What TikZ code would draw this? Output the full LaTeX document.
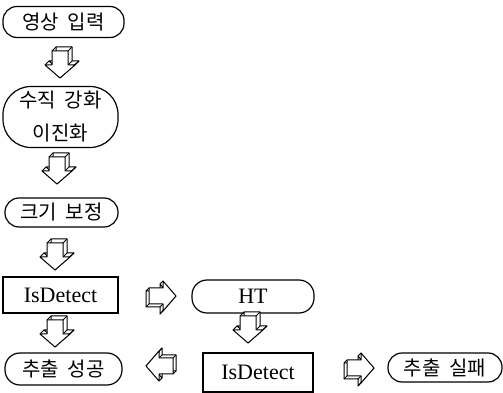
\documentclass[tikz,border=0pt]{standalone}
\usepackage{fontspec}
\setmainfont{Liberation Serif}
\newfontfamily\kr{Noto Sans CJK KR}
\usetikzlibrary{calc}
\tikzset{
  base/.style={draw, line width=1.2pt, inner sep=0pt, align=center},
  pill/.style={base, rounded corners=#1},
  pill/.default=14pt,
  krtext/.style={font=\kr\fontsize{20}{33}\selectfont},
  entext/.style={font=\fontsize{22}{26}\selectfont},
  boxnode/.style={base, rectangle},
  arrowline/.style={line width=1pt, line join=round},
}
% block arrow: #1 centre, #2 angle, #3 dx, #4 dy (depth offset)
\newcommand{\blkarrow}[4]{%
  \begin{scope}[shift={(#1)}]
    \begin{scope}[shift={(#3,#4)},rotate=#2]
      \filldraw[arrowline,fill=white] (-8,11) -- (-8,-3) -- (-15,-3) -- (0,-16) -- (15,-3) -- (8,-3) -- (8,11) -- cycle;
    \end{scope}
    \foreach \px/\py in {-8/11,-8/-3,-15/-3,0/-16,15/-3,8/-3,8/11}{
      \path[rotate=#2] (\px,\py) coordinate (tmpv);
      \draw[arrowline] (tmpv) -- ++(#3,#4);
    }
    \begin{scope}[rotate=#2]
      \filldraw[arrowline,fill=white] (-8,11) -- (-8,-3) -- (-15,-3) -- (0,-16) -- (15,-3) -- (8,-3) -- (8,11) -- cycle;
    \end{scope}
  \end{scope}}
\begin{document}
\begin{tikzpicture}[x=1pt,y=1pt]
\useasboundingbox (0,0) rectangle (503,393);
% nodes
\node[pill, krtext, minimum width=121pt, minimum height=31pt] (n1) at (63.5,371) {영상\hspace{0.45em}입력};
\node[pill=28pt, krtext, minimum width=115pt, minimum height=61pt] (n2) at (60.5,276) {수직\hspace{0.45em}강화\\이진화};
\node[pill, krtext, minimum width=113pt, minimum height=29pt] (n3) at (61.5,180.5) {크기\hspace{0.45em}보정};
\node[boxnode, entext, minimum width=115pt, minimum height=36pt] (n4) at (60.5,98) {IsDetect};
\node[pill=15pt, entext, minimum width=122pt, minimum height=33pt] (n5) at (253,96.5) {HT};
\node[pill=15pt, krtext, minimum width=117pt, minimum height=32pt] (n6) at (63.5,24) {추출\hspace{0.45em}성공};
\node[boxnode, entext, minimum width=110pt, minimum height=39pt] (n7) at (258,20.5) {IsDetect};
\node[pill, krtext, minimum width=114pt, minimum height=29pt] (n8) at (445,25.5) {추출\hspace{0.45em}실패};
% block arrows
\coordinate (a1) at (60,331);
\coordinate (a2) at (57,225);
\coordinate (a3) at (55,139);
\coordinate (a4) at (160,97);
\coordinate (a5) at (248,66);
\coordinate (a6) at (55,62);
\coordinate (a7) at (162,27);
\coordinate (a8) at (358,25);
\blkarrow{a1}{0}{4}{4}
\blkarrow{a2}{0}{4}{4}
\blkarrow{a3}{0}{4}{4}
\blkarrow{a4}{90}{-3}{-3}
\blkarrow{a5}{0}{4}{4}
\blkarrow{a6}{0}{4}{4}
\blkarrow{a7}{-90}{3}{3}
\blkarrow{a8}{90}{-3}{-3}
\end{tikzpicture}
\end{document}
